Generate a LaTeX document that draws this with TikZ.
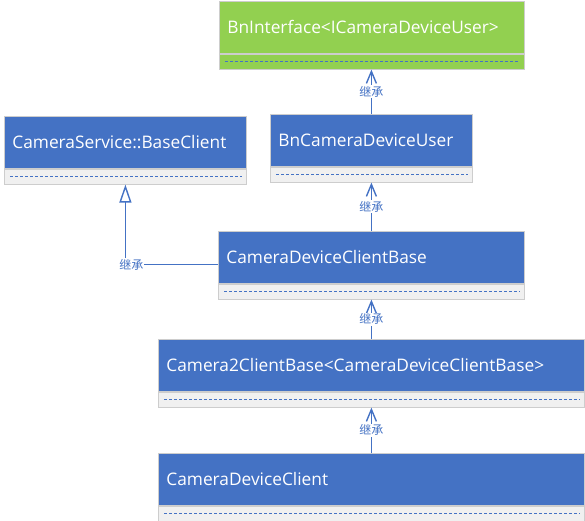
\documentclass[tikz,border=0pt]{standalone}
\usepackage{fontspec}
\setmainfont{Open Sans}
\newfontfamily\cjk{Noto Sans CJK SC}
\usetikzlibrary{arrows.meta, positioning}
\definecolor{classblue}{HTML}{4472C4}
\definecolor{classgreen}{HTML}{92D050}
\definecolor{slotgray}{HTML}{F0F0F0}
\definecolor{rimgray}{HTML}{CDCDCD}

% one class box: name, north west corner, width, head fill, slot fill, title
\newcommand{\umlclass}[6]{%
  \node[head=#3, fill=#4] (#1) at (#2) {#6};
  \node[slot=#3, fill=#5, below=0pt of #1] (#1-slot) {};
  \draw[dots] ([xshift=6pt]#1-slot.west) -- ([xshift=-5pt]#1-slot.east);
}

\begin{document}
\begin{tikzpicture}[x=1pt, y=-1pt,
  head/.style={draw=rimgray, line width=0.8pt, anchor=north west, minimum height=52pt,
               text width=#1pt-16pt, inner xsep=8pt, inner ysep=0pt, align=left,
               text=white, font=\fontsize{17.3}{20}\selectfont},
  slot/.style={draw=rimgray, line width=0.8pt, minimum height=15pt, minimum width=#1pt,
               inner sep=0pt},
  dots/.style={classblue, line width=1.3pt, dash pattern=on 3pt off 2pt},
  inherit/.style={draw=classblue, line width=1.4pt, -{Straight Barb[length=12pt, width=10pt]}},
  tag/.style={fill=white, text=classblue, inner sep=1pt, font=\cjk\fontsize{12}{14}\selectfont}]
  \useasboundingbox (0,0) rectangle (585,520);

  \umlclass{bnif}{219,1}{305}{classgreen}{classgreen}{BnInterface<ICameraDeviceUser>}
  \umlclass{bncdu}{270,114}{202}{classblue}{slotgray}{BnCameraDeviceUser}
  \umlclass{base}{4,116}{242}{classblue}{slotgray}{CameraService::BaseClient}
  \umlclass{cdcb}{218,231}{306}{classblue}{slotgray}{CameraDeviceClientBase}
  \umlclass{c2cb}{158,339}{426}{classblue}{slotgray}{Camera2ClientBase<CameraDeviceClientBase>}
  \umlclass{cdc}{158,453}{426}{classblue}{slotgray}{CameraDeviceClient}

  \draw[inherit] (bncdu.north) -- node[tag] {继承} (bncdu.north |- bnif-slot.south);
  \draw[inherit] (cdcb.north) -- node[tag] {继承} (cdcb.north |- bncdu-slot.south);
  \draw[inherit] (c2cb.north) -- node[tag] {继承} (c2cb.north |- cdcb-slot.south);
  \draw[inherit] (cdc.north) -- node[tag] {继承} (cdc.north |- c2cb-slot.south);
  \draw[inherit, -{Triangle[open, length=18pt, width=12pt]}]
    ([yshift=-7pt]cdcb.west) -| node[tag, pos=0.5, xshift=6pt] {继承} (base-slot.south);
\end{tikzpicture}
\end{document}
